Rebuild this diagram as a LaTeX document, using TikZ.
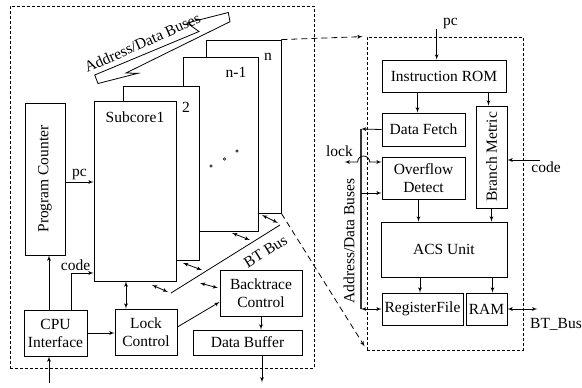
\documentclass[tikz,border=0pt]{standalone}
\usepackage{fontspec}
\setmainfont{Liberation Serif}
\usetikzlibrary{arrows}

\begin{document}
\begin{tikzpicture}[x=1pt,y=-1pt,>=latex',line width=0.8pt,
    every node/.style={font=\fontsize{15.5}{18}\selectfont},
    block/.style={draw,fill=white,inner sep=1pt,align=center},
    frame/.style={draw,dash pattern=on 3pt off 2pt,inner sep=0pt},
    link/.style={dash pattern=on 6pt off 4pt},
    lbl/.style={inner sep=0pt}]

  \useasboundingbox (0,0) rectangle (582,388);

  % frames
  \node[frame,minimum width=304pt,minimum height=362pt] (core) at (162,187) {};
  \node[frame,minimum width=156pt,minimum height=313pt] (vit) at (445,193.5) {};

  % subcores, back to front
  \node[block,minimum width=75pt,minimum height=173pt] (subn) at (243.5,126.5) {};
  \node[block,minimum width=75pt,minimum height=174pt] (subn1) at (220.5,144) {};
  \node[block,minimum width=76pt,minimum height=174pt] (sub2) at (161,173) {};
  \node[block,minimum width=82pt,minimum height=180pt] (sub1) at (135,191) {};
  \node[lbl] (nlbl) at (268,57) {n};
  \node[lbl] (n1lbl) at (236,72) {n-1};
  \node[lbl] (twolbl) at (186,107) {2};
  \node[lbl] (sub1lbl) at (135,117) {Subcore1};
  \foreach \x/\y in {211/166,224.5/159,237/151}
    \draw[line width=0.6pt] (\x,\y) circle (1.3pt);

  % bus symbol
  \draw[fill=white] (94.7,75) -- (98,83.5) -- (138,73.3) -- (126,73) -- (230,21.7)
    -- (228.3,12.5) -- (187,23) -- (199,31.5) -- cycle;
  \node[rotate=24,anchor=base,inner sep=0pt] (buslbl) at (144.5,47.5) {Address/Data Buses};

  % left blocks
  \node[block,rotate=90,minimum width=152pt,minimum height=40pt] (pcnt) at (45,179) {Program Counter};
  \node[block,minimum width=63pt,minimum height=46pt] (cpu) at (55.5,333) {CPU\\Interface};
  \node[block,minimum width=62pt,minimum height=46pt] (lockc) at (146,332) {Lock\\Control};
  \node[block,minimum width=82pt,minimum height=46pt] (btc) at (261,293) {Backtrace\\Control};
  \node[block,minimum width=109pt,minimum height=25pt] (dbuf) at (247.5,342.5) {Data Buffer};

  \draw[->] ([yshift=-3pt]pcnt.south) -- ([yshift=-3pt]pcnt.south -| sub1.west)
    node[midway,above,inner sep=2pt] {pc};
  \draw[->] ([xshift=-6.5pt]cpu.north) -- ([xshift=-6.5pt]cpu.north |- pcnt.west);
  \draw[->] ([xshift=15.5pt]cpu.north) |- ([yshift=-82pt]sub1.west);
  \node[lbl] (codel) at (75.5,265) {code};
  \draw[<-] ([xshift=-6.5pt]cpu.south) -- ++(0,27);
  \draw[->] (cpu.east) -- (cpu.east -| lockc.west);
  \draw[<->] ([xshift=-20pt]lockc.north) -- ([xshift=-20pt]lockc.north |- sub1.south);
  \draw[->] ([yshift=5pt]lockc.east) -- ([yshift=-9pt]btc.west);
  \draw[->] (btc.south) -- (btc.south |- dbuf.north);
  \draw[->] ([xshift=14.5pt]dbuf.south) -- ++(0,27);

  % BT bus
  \coordinate (bt1) at (171,293);
  \coordinate (bt2) at (280,225);
  \draw (bt1) -- (bt2);
  \node[rotate=32] (btlbl) at (265.5,251.5) {BT Bus};
  \foreach \xa/\ya/\xb/\yb in {152/285/168/292,183/263/202/270,232/233/250/240,
                               262/215/278/223,200/283/218/288}
    \draw[<->] (\xa,\ya) -- (\xb,\yb);

  % dashed links to the subcore detail
  \draw[link,->] (subn.north east) -- ([xshift=-4pt]vit.north west);
  \draw[link,->] (subn.south east) -- ([xshift=-2pt,yshift=4pt]vit.south west);

  % subcore detail
  \node[block,minimum width=124pt,minimum height=32pt] (irom) at (444,76) {Instruction ROM};
  \node[block,minimum width=83pt,minimum height=33pt] (dfetch) at (423.5,129.5) {Data Fetch};
  \node[block,rotate=90,minimum width=102pt,minimum height=31pt] (bmet) at (491.5,157) {Branch Metric};
  \node[block,minimum width=83pt,minimum height=42pt] (ovf) at (423.5,178) {Overflow\\Detect};
  \node[block,minimum width=126pt,minimum height=55pt] (acs) at (444,249.5) {ACS Unit};
  \node[block,minimum width=81pt,minimum height=32pt,inner sep=0pt] (regf) at (422.5,309) {RegisterFile};
  \node[block,minimum width=41pt,minimum height=32pt] (ram) at (486.5,309) {RAM};

  \draw[<-] ([xshift=-7.3pt]irom.north) -- ++(0,-31);
  \node[lbl] (pcr) at (450.5,23) {pc};
  \draw[->] ([xshift=-6pt]dfetch.north |- irom.south) -- ([xshift=-6pt]dfetch.north);
  \draw[->] ([xshift=-3pt]bmet.east |- irom.south) -- ([xshift=-3pt]bmet.east);
  \draw[<-] ([yshift=-3pt]bmet.south) -- ++(33,0);
  \node[lbl] (coder) at (546,167) {code};
  \draw[->] ([xshift=-5pt]ovf.south) -- ([xshift=-5pt]ovf.south |- acs.north);
  \draw[->] (bmet.west) -- (bmet.west |- acs.north);
  \draw[->] ([xshift=-2.5pt]regf.north |- acs.south) -- ([xshift=-2.5pt]regf.north);
  \draw[->] ([xshift=6pt]ram.north |- acs.south) -- ([xshift=6pt]ram.north);
  \draw[<->] (ram.east) -- ++(30,0);
  \node[lbl] (btr) at (556,324) {BT\_Bus};

  % address/data buses inside
  \coordinate (bustop) at (361,129);
  \coordinate (busbot) at (regf.west -| bustop);
  \draw[->] (dfetch.west) -- (bustop);
  \draw[line width=1.3pt,black!80] (bustop) -- (busbot);
  \draw[->] ([yshift=-15pt]ovf.west -| bustop) -- ([yshift=-15pt]ovf.west);
  \draw[<->] (busbot) -- (regf.west);
  \draw[<->] ([yshift=16pt]ovf.west) -- ++(-12,0)
    arc[start angle=0,end angle=180,radius=6pt] -- ++(-13,0);
  \node[lbl] (lockl) at (339.5,151) {lock};
  \node[lbl,rotate=90] (busv) at (349,241) {Address/Data Buses};

\end{tikzpicture}
\end{document}
